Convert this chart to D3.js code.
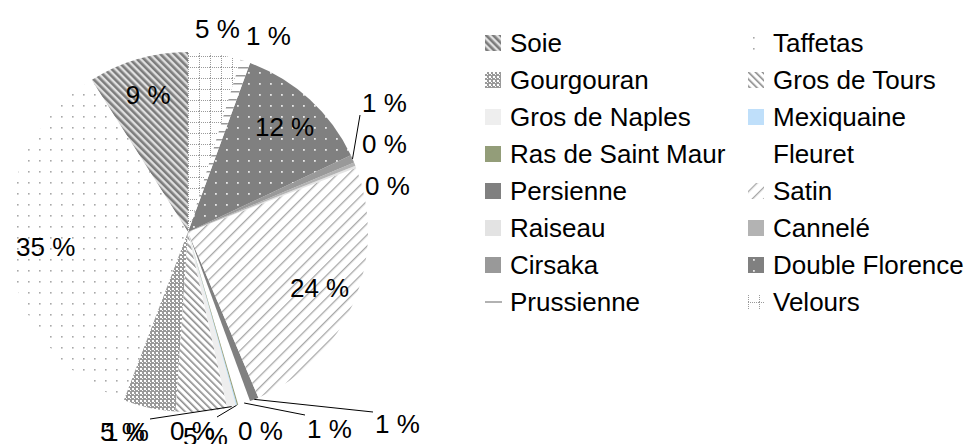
<!DOCTYPE html>
<html>
<head>
<meta charset="utf-8">
<script src="https://cdn.jsdelivr.net/npm/d3@7"></script>
<style>
body { margin: 0; background: #fff; }
text { font-family: "Liberation Sans", Arial, sans-serif; font-size: 26px; fill: #000; }
</style>
</head>
<body>
<svg id="chart" width="965" height="444"></svg>
<script>
// fabric types, in legend order (pie goes counter-clockwise from 12 o'clock)
const categories = ["Soie", "Taffetas", "Gourgouran", "Gros de Tours", "Gros de Naples",
  "Mexiquaine", "Ras de Saint Maur", "Fleuret", "Persienne", "Satin", "Raiseau",
  "Cannelé", "Cirsaka", "Double Florence", "Prussienne", "Velours"];
// share in percent
const values = [9.0, 35.2, 4.7, 4.6, 0.8, 0.1, 0.1, 1.1, 0.8, 24.4, 0.2, 0.3, 0.7, 12.4, 0.9, 4.7];

// fills (patterns or plain colours), same order as categories
const fills = ["url(#p-soie)", "url(#p-taffetas)", "url(#p-gourg)", "url(#p-tours)", "#eeeeee",
  "#bfdffa", "#939d79", "none", "#808080", "url(#p-satin)", "#e3e3e3",
  "#b3b3b3", "#999999", "url(#p-florence)", "url(#p-pruss)", "url(#p-velours)"];

const cx = 188, cy = 232, radius = 180;

// where the small slice labels ended up (left x, baseline) + leader end if any
const outsideLabels = {
  "Velours":           {x: 195, y: 38},
  "Prussienne":        {x: 246, y: 45},
  "Cirsaka":           {x: 362, y: 112, lx: 360, ly: 115},
  "Cannelé":           {x: 362, y: 153},
  "Raiseau":           {x: 365, y: 195},
  "Gourgouran":        {x: 100, y: 441},
  "Gros de Naples":    {x: 104, y: 441, lx: 150, ly: 419},
  "Mexiquaine":        {x: 170, y: 440, lx: 217, ly: 417},
  "Gros de Tours":     {x: 183, y: 446},
  "Ras de Saint Maur": {x: 238, y: 440},
  "Fleuret":           {x: 307, y: 438, lx: 305, ly: 415},
  "Persienne":         {x: 375, y: 433, lx: 373, ly: 412}
};

const svg = d3.select("#chart");
const defs = svg.append("defs");

function pattern(id, w, h, transform) {
  const p = defs.append("pattern")
    .attr("id", id)
    .attr("patternUnits", "userSpaceOnUse")
    .attr("width", w).attr("height", h);
  if (transform) p.attr("patternTransform", transform);
  return p;
}

let p = pattern("p-soie", 5, 5, "rotate(-45)");
p.append("rect").attr("width", 5).attr("height", 5).attr("fill", "#e0e0e0");
p.append("rect").attr("width", 2.6).attr("height", 5).attr("fill", "#7c7c7c");

p = pattern("p-tours", 5, 5, "rotate(-45)");
p.append("rect").attr("width", 5).attr("height", 5).attr("fill", "#fff");
p.append("rect").attr("width", 1.6).attr("height", 5).attr("fill", "#8c8c8c");

p = pattern("p-satin", 8, 8, "rotate(45)");
p.append("rect").attr("width", 8).attr("height", 8).attr("fill", "#fff");
p.append("rect").attr("width", 1.3).attr("height", 8).attr("fill", "#a8a8a8");

p = pattern("p-taffetas", 11, 11);
p.append("rect").attr("width", 11).attr("height", 11).attr("fill", "#fff");
p.append("rect").attr("x", 5).attr("y", 5).attr("width", 1.6).attr("height", 1.6).attr("fill", "#a8a8a8");

p = pattern("p-gourg", 4, 4);
p.append("rect").attr("width", 4).attr("height", 4).attr("fill", "#9a9a9a");
p.append("rect").attr("width", 2).attr("height", 2).attr("fill", "#fff");
p.append("rect").attr("x", 2).attr("y", 2).attr("width", 1).attr("height", 1).attr("fill", "#fff");

p = pattern("p-florence", 11, 11);
p.append("rect").attr("width", 11).attr("height", 11).attr("fill", "#808080");
p.append("rect").attr("x", 5).attr("y", 5).attr("width", 1.8).attr("height", 1.8).attr("fill", "#e8e8e8");

p = pattern("p-velours", 11, 11);
p.append("rect").attr("width", 11).attr("height", 11).attr("fill", "#fff");
p.append("path").attr("d", "M0,0.5H11M0.5,0V11")
  .attr("stroke", "#9a9a9a").attr("stroke-width", 1).attr("stroke-dasharray", "1,1").attr("fill", "none");

p = pattern("p-pruss", 8, 8);
p.append("rect").attr("width", 8).attr("height", 8).attr("fill", "#fff");
p.append("rect").attr("y", 3).attr("width", 8).attr("height", 1.5).attr("fill", "#999");

const data = categories.map((c, i) => ({name: c, value: values[i], fill: fills[i]}));
const total = d3.sum(values);
const pct = v => Math.round(v / total * 100) + " %";

const pie = d3.pie().sort(null).startAngle(0).endAngle(-2 * Math.PI).value(d => d.value);
const arcs = pie(data);
const arc = d3.arc().innerRadius(0).outerRadius(radius);
const edgeArc = d3.arc().innerRadius(radius).outerRadius(radius);
const innerLabelArc = d3.arc().innerRadius(143).outerRadius(143);

const g = svg.append("g").attr("transform", "translate(" + cx + "," + cy + ")");

g.selectAll("path.slice")
  .data(arcs)
  .join("path")
  .attr("class", "slice")
  .attr("d", arc)
  .attr("fill", d => d.data.fill);

// big slices: label inside
g.selectAll("text.inside")
  .data(arcs.filter(d => d.data.value >= 9))
  .join("text")
  .attr("class", "inside")
  .attr("transform", d => "translate(" + innerLabelArc.centroid(d) + ")")
  .attr("text-anchor", "middle")
  .attr("dy", "0.36em")
  .text(d => pct(d.data.value));

// small slices: label outside, some with leader line
const small = arcs.filter(d => outsideLabels[d.data.name]);

svg.selectAll("line.leader")
  .data(small.filter(d => outsideLabels[d.data.name].lx !== undefined))
  .join("line")
  .attr("class", "leader")
  .attr("x1", d => cx + edgeArc.centroid(d)[0])
  .attr("y1", d => cy + edgeArc.centroid(d)[1])
  .attr("x2", d => outsideLabels[d.data.name].lx)
  .attr("y2", d => outsideLabels[d.data.name].ly)
  .attr("stroke", "#000")
  .attr("stroke-width", 1);

svg.selectAll("text.outside")
  .data(small)
  .join("text")
  .attr("class", "outside")
  .attr("x", d => outsideLabels[d.data.name].x)
  .attr("y", d => outsideLabels[d.data.name].y)
  .text(d => pct(d.data.value));

// legend, two columns, row-major
const legend = svg.append("g");
const items = legend.selectAll("g")
  .data(data)
  .join("g")
  .attr("transform", (d, i) => "translate(" + (i % 2 ? 748 : 485) + "," + (43 + Math.floor(i / 2) * 37) + ")");

items.each(function(d) {
  const it = d3.select(this);
  if (d.name === "Prussienne") {
    it.append("line").attr("x1", 0).attr("x2", 17).attr("y1", 0).attr("y2", 0)
      .attr("stroke", "#999").attr("stroke-width", 1.5);
  } else if (d.fill !== "none") {
    it.append("rect").attr("x", 0).attr("y", -8).attr("width", 16).attr("height", 16)
      .attr("fill", d.fill);
  }
  it.append("text").attr("x", 25).attr("dy", "0.36em").text(d.name);
});
</script>
</body>
</html>
